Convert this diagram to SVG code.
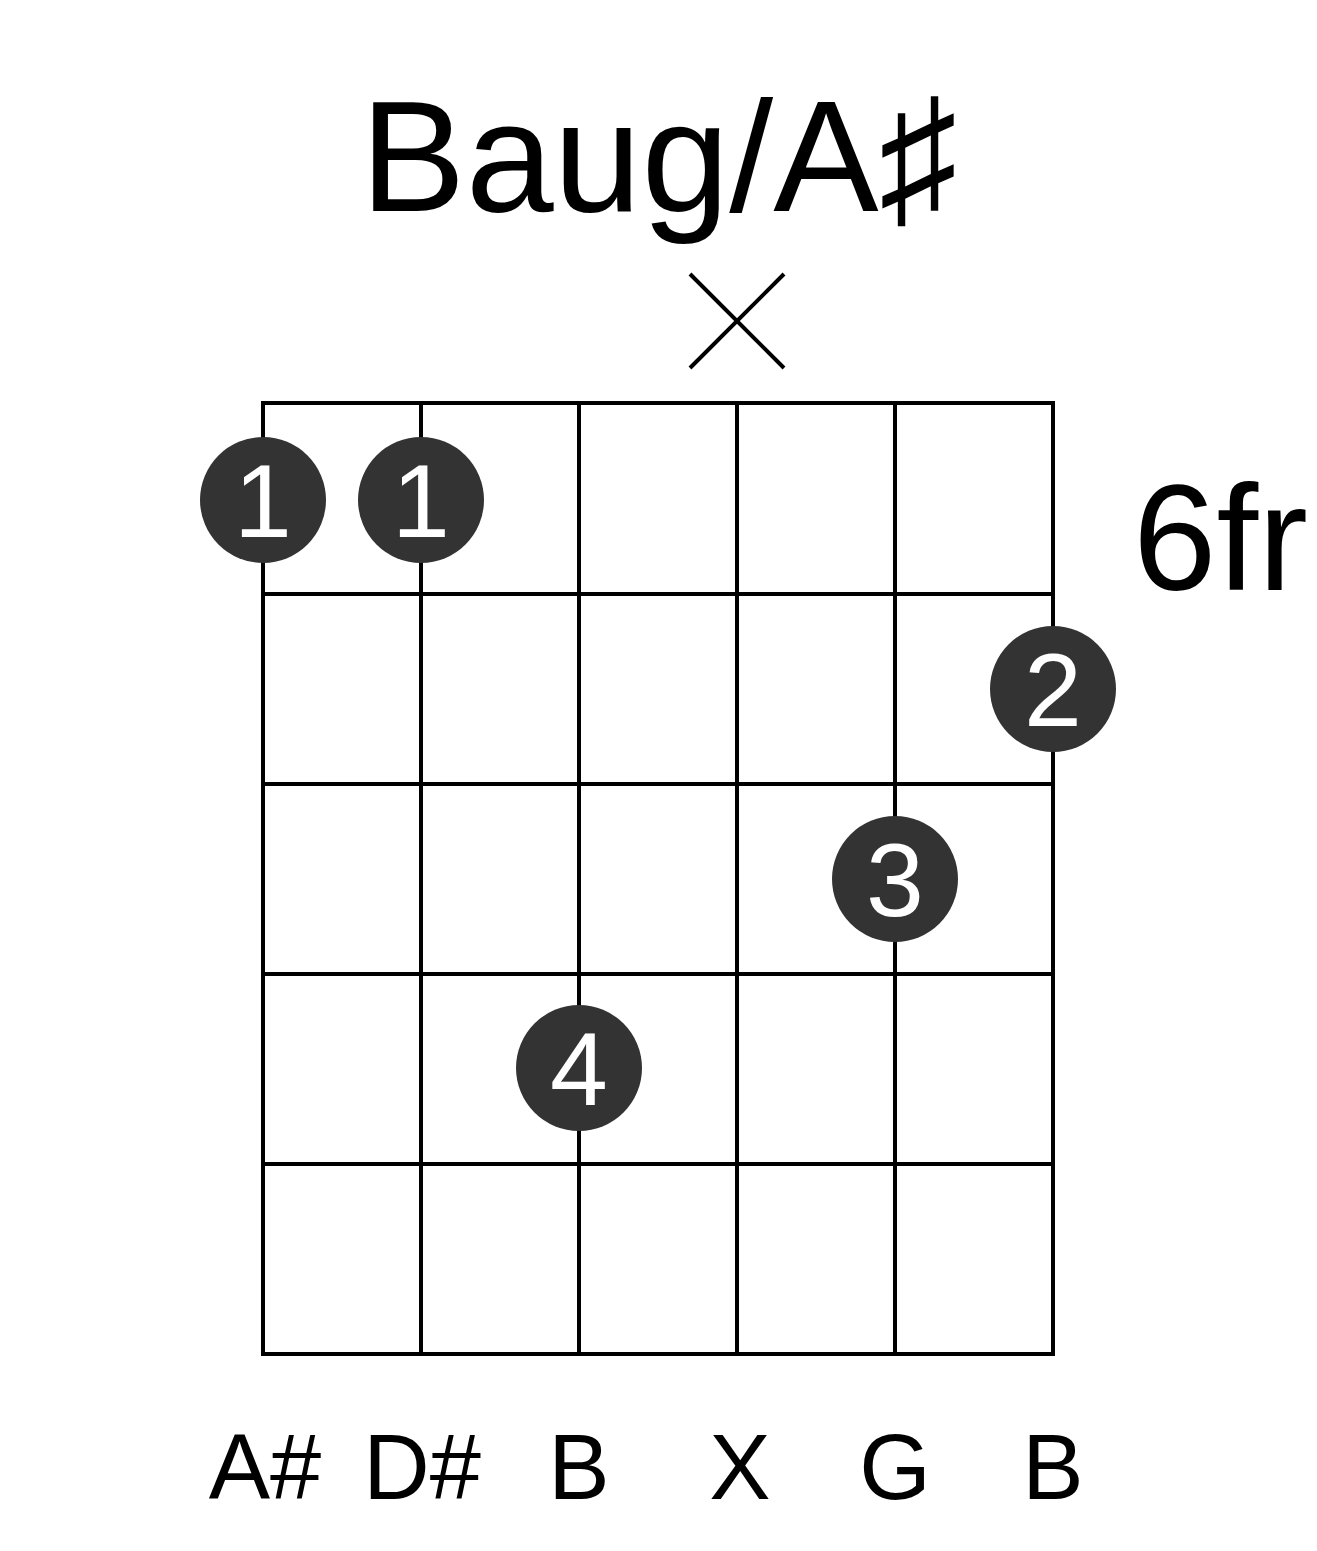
<svg xmlns="http://www.w3.org/2000/svg" width="1317" height="1551" viewBox="0 0 1317 1551">
<style>
.t{font-family:"Liberation Sans",Arial,"DejaVu Sans",sans-serif;fill:#000}
.grid line{stroke:#000;stroke-width:4}
.dot circle{fill:#333}
.dot text{font-family:"Liberation Sans",Arial,sans-serif;font-size:104px;fill:#fff;text-anchor:middle}
.lbl{font-family:"Liberation Sans",Arial,sans-serif;font-size:92px;text-anchor:middle}
</style>
<rect width="1317" height="1551" fill="#fff"/>
<text id="title" class="t" x="659" y="211" font-size="158" text-anchor="middle">Baug/A♯</text>
<g id="mute" stroke="#000" stroke-width="4">
<line x1="690" y1="274" x2="784" y2="368"/>
<line x1="784" y1="274" x2="690" y2="368"/>
</g>
<g id="grid" class="grid">
<line x1="263" y1="403" x2="263" y2="1354"/>
<line x1="421" y1="403" x2="421" y2="1354"/>
<line x1="579" y1="403" x2="579" y2="1354"/>
<line x1="737" y1="403" x2="737" y2="1354"/>
<line x1="895" y1="403" x2="895" y2="1354"/>
<line x1="1053" y1="403" x2="1053" y2="1354"/>
<line x1="261" y1="403" x2="1055" y2="403"/>
<line x1="261" y1="594" x2="1055" y2="594"/>
<line x1="261" y1="784" x2="1055" y2="784"/>
<line x1="261" y1="974" x2="1055" y2="974"/>
<line x1="261" y1="1164" x2="1055" y2="1164"/>
<line x1="261" y1="1354" x2="1055" y2="1354"/>
</g>
<text id="fret" class="t" x="1133" y="590" font-size="150">6fr</text>
<g id="dot1a" class="dot"><circle cx="263" cy="500" r="63"/><text x="263" y="537">1</text></g>
<g id="dot1b" class="dot"><circle cx="421" cy="500" r="63"/><text x="421" y="537">1</text></g>
<g id="dot2" class="dot"><circle cx="1053" cy="689" r="63"/><text x="1053" y="726">2</text></g>
<g id="dot3" class="dot"><circle cx="895" cy="879" r="63"/><text x="895" y="916">3</text></g>
<g id="dot4" class="dot"><circle cx="579" cy="1068" r="63"/><text x="579" y="1105">4</text></g>
<g id="labels">
<text class="lbl" x="265" y="1499">A#</text>
<text class="lbl" x="422" y="1499">D#</text>
<text class="lbl" x="579" y="1499">B</text>
<text class="lbl" x="740" y="1499">X</text>
<text class="lbl" x="895" y="1499">G</text>
<text class="lbl" x="1053" y="1499">B</text>
</g>
</svg>
